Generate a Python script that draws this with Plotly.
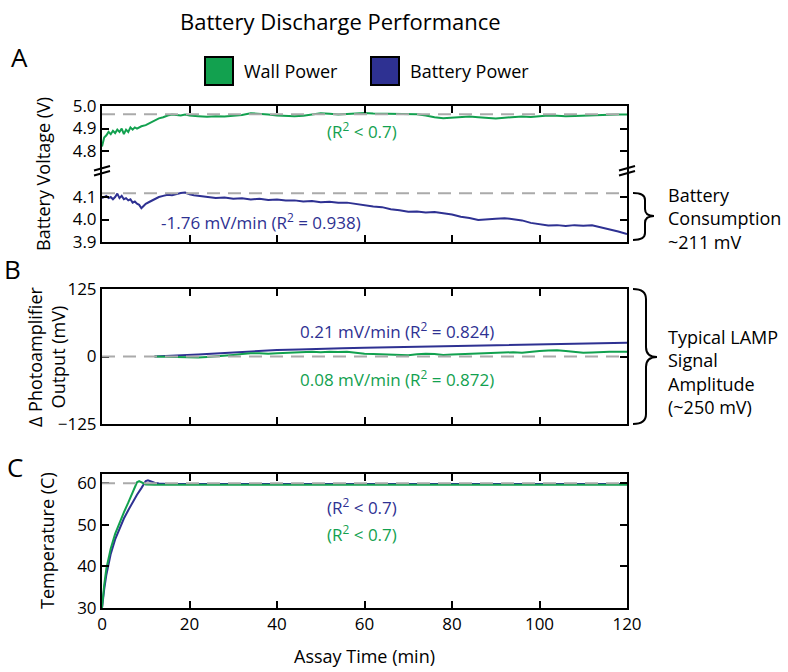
import plotly.graph_objects as go

# ---------------- data ----------------
GREEN = "#12A14F"
BLUE = "#2E3192"
GRAY = "#aaaaaa"
FONT = "Open Sans"

series_names = ["Wall Power", "Battery Power"]

# Panel A: battery voltage (V)
t_wall_v = [0, 0.5, 1, 1.5, 2, 2.5, 3, 3.5, 4, 4.5, 5, 5.5, 6, 6.5, 7, 7.5, 8, 9, 10, 11, 12, 13, 14,
            15, 16, 17, 18, 19, 20, 22, 24, 26, 28, 30, 32, 34, 36, 38, 40, 42, 44, 46, 48, 50, 52, 54,
            56, 58, 60, 62, 64, 66, 68, 70, 72, 74, 76, 78, 80, 82, 84, 86, 88, 90, 92, 94, 96, 98,
            100, 102, 104, 106, 108, 110, 112, 114, 116, 118, 120]
v_wall = [4.82, 4.86, 4.87, 4.885, 4.875, 4.89, 4.88, 4.895, 4.885, 4.90, 4.875, 4.895, 4.885, 4.905,
          4.895, 4.905, 4.90, 4.91, 4.915, 4.925, 4.935, 4.945, 4.95, 4.958, 4.962, 4.96, 4.958, 4.962,
          4.958, 4.955, 4.952, 4.955, 4.953, 4.957, 4.96, 4.968, 4.966, 4.962, 4.958, 4.955, 4.954,
          4.957, 4.962, 4.968, 4.966, 4.962, 4.964, 4.967, 4.969, 4.967, 4.966, 4.963, 4.962, 4.964,
          4.963, 4.958, 4.95, 4.946, 4.948, 4.952, 4.953, 4.95, 4.947, 4.945, 4.948, 4.95, 4.953,
          4.951, 4.955, 4.958, 4.957, 4.954, 4.956, 4.958, 4.96, 4.962, 4.961, 4.962, 4.962]

t_batt_v = [0, 0.5, 1, 1.5, 2, 2.5, 3, 3.5, 4, 4.5, 5, 5.5, 6, 6.5, 7, 7.5, 8, 8.5, 9, 9.5, 10, 11, 12,
            13, 14, 15, 16, 17, 18, 19, 20, 21, 22, 24, 26, 28, 30, 32, 34, 36, 38, 40, 42, 44, 46, 48,
            50, 52, 54, 56, 58, 60, 62, 64, 66, 68, 70, 72, 74, 76, 78, 80, 82, 84, 86, 88, 90, 92, 94,
            96, 98, 100, 102, 104, 106, 108, 110, 112, 114, 116, 118, 120]
v_batt = [4.095, 4.10, 4.105, 4.095, 4.10, 4.09, 4.10, 4.115, 4.095, 4.105, 4.09, 4.095, 4.085, 4.09,
          4.075, 4.08, 4.07, 4.065, 4.05, 4.06, 4.07, 4.08, 4.09, 4.10, 4.105, 4.11, 4.108, 4.114,
          4.118, 4.12, 4.112, 4.108, 4.105, 4.10, 4.096, 4.098, 4.092, 4.094, 4.089, 4.092, 4.087,
          4.089, 4.084, 4.085, 4.08, 4.082, 4.077, 4.079, 4.074, 4.075, 4.069, 4.065, 4.058, 4.055,
          4.046, 4.041, 4.034, 4.036, 4.031, 4.033, 4.027, 4.022, 4.012, 4.007, 3.998, 4.002, 4.003,
          4.006, 4.0, 3.996, 3.985, 3.979, 3.973, 3.975, 3.971, 3.975, 3.972, 3.974, 3.965, 3.959,
          3.947, 3.935]

# Panel B: change in photoamplifier output (mV)
t_batt_p = [12, 14, 16, 18, 20, 22, 24, 26, 28, 30, 32, 34, 36, 38, 40, 45, 50, 55, 60, 65, 70, 75,
            80, 85, 90, 95, 100, 105, 110, 115, 120]
p_batt = [0, 0.5, 1.5, 2.5, 3, 3.5, 4.5, 5.5, 7, 8, 9, 10, 10.5, 11, 12, 13, 14.5, 15.5, 16, 16.7,
          17.3, 18.2, 19.2, 19.8, 20.3, 21, 22, 22.7, 23.5, 24.5, 25.5]

t_wall_p = [12, 14, 16, 18, 20, 22, 24, 26, 28, 30, 32, 34, 36, 38, 40, 42, 44, 46, 48, 50, 52, 54, 56,
            58, 60, 62, 64, 66, 68, 70, 72, 74, 76, 78, 80, 82, 84, 86, 88, 90, 92, 94, 96, 98, 100,
            102, 104, 106, 108, 110, 112, 114, 116, 118, 120]
p_wall = [0, -0.5, -1, -1.5, -1.5, -2, -1, 0, 1.5, 3, 4.5, 6, 6, 5, 6, 7, 8, 8.5, 9, 8, 9, 8.5, 9, 7,
          5, 4.5, 4, 3, 2, 2.5, 4, 5, 4.5, 3, 3.5, 4, 5, 6, 6.5, 7, 7.5, 8, 7, 9, 10, 11, 11.5, 10,
          8.5, 7, 7.5, 8.5, 9, 9, 9]

# Panel C: temperature (C)
t_wall_t = [0, 0.25, 0.5, 1, 1.5, 2, 3, 4, 5, 6, 7, 7.5, 8, 8.5, 9, 9.5, 10, 12, 15, 20, 30, 40, 50,
            60, 70, 80, 90, 100, 110, 120]
temp_wall = [30, 33, 35.5, 39.5, 42, 44.3, 47.8, 50.5, 53, 55.3, 57.8, 59.2, 60.2, 60.5, 60.2, 59.8,
             59.7, 59.6, 59.6, 59.6, 59.6, 59.6, 59.6, 59.6, 59.6, 59.6, 59.6, 59.6, 59.6, 59.6]
t_batt_t = [0, 0.25, 0.5, 1, 1.5, 2, 3, 4, 5, 6, 7, 8, 9, 9.5, 10, 10.5, 11, 12, 13, 15, 20, 30, 40,
            50, 60, 70, 80, 90, 100, 110, 120]
temp_batt = [30, 32.5, 34.5, 38, 40.8, 43, 46.5, 49.2, 51.5, 53.5, 55.5, 57.2, 58.8, 59.8, 60.5, 60.7,
             60.5, 60.1, 59.9, 59.8, 59.8, 59.8, 59.8, 59.8, 59.8, 59.8, 59.8, 59.8, 59.8, 59.8, 59.8]

ref_wall_v = 4.963
ref_batt_v = 4.117
ref_photo = 0
ref_temp = 60

x_ticks_inner = [20, 40, 60, 80, 100]
x_ticks_c = [0, 20, 40, 60, 80, 100, 120]

# ---------------- layout helpers ----------------
W, H = 788, 672
L, R, T, B = 102, 627, 106, 608   # plot area in pixels


def px(x):
    return (x - L) / (R - L)


def py(y):
    return (B - y) / (B - T)


fig = go.Figure()
fig.add_trace(go.Scatter(x=t_wall_v, y=v_wall, xaxis="x4", yaxis="y", mode="lines",
                         line=dict(color=GREEN, width=2), name=series_names[0], showlegend=False))
fig.add_trace(go.Scatter(x=t_batt_v, y=v_batt, xaxis="x", yaxis="y2", mode="lines",
                         line=dict(color=BLUE, width=2), name=series_names[1], showlegend=False))
fig.add_trace(go.Scatter(x=t_batt_p, y=p_batt, xaxis="x2", yaxis="y3", mode="lines",
                         line=dict(color=BLUE, width=2), name=series_names[1], showlegend=False))
fig.add_trace(go.Scatter(x=t_wall_p, y=p_wall, xaxis="x2", yaxis="y3", mode="lines",
                         line=dict(color=GREEN, width=2), name=series_names[0], showlegend=False))
fig.add_trace(go.Scatter(x=t_batt_t, y=temp_batt, xaxis="x3", yaxis="y4", mode="lines",
                         line=dict(color=BLUE, width=2), name=series_names[1], showlegend=False))
fig.add_trace(go.Scatter(x=t_wall_t, y=temp_wall, xaxis="x3", yaxis="y4", mode="lines",
                         line=dict(color=GREEN, width=2), name=series_names[0], showlegend=False))

tickfont = dict(family=FONT, size=17, color="black")
ax_common = dict(showline=True, linewidth=2, linecolor="black", ticks="inside", ticklen=7,
                 tickwidth=2, tickcolor="black", showgrid=False, zeroline=False, tickfont=tickfont)

d_a_top = (py(170), 1.0)
d_a_bot = (py(242), py(170))
d_b = (py(424), py(289))
d_c = (0.0, py(474))

fig.update_layout(
    width=W, height=H,
    margin=dict(l=L, r=W - R, t=T, b=H - B, pad=0),
    paper_bgcolor="white", plot_bgcolor="white", showlegend=False,
    font=dict(family=FONT, size=17, color="black"),
    xaxis=dict(domain=[0, 1], range=[0, 120], anchor="y2", tickvals=x_ticks_inner,
               showticklabels=False, **ax_common),
    xaxis4=dict(domain=[0, 1], range=[0, 120], anchor="y", side="top", tickvals=x_ticks_inner,
                showticklabels=False, **ax_common),
    yaxis=dict(domain=list(d_a_top), range=[4.716, 5.0], anchor="x4", tickvals=[4.8, 4.9, 5.0],
               ticktext=["4.8", "4.9", "5.0"], mirror="ticks", **ax_common),
    yaxis2=dict(domain=list(d_a_bot), range=[3.9, 4.22], anchor="x", tickvals=[3.9, 4.0, 4.1],
                ticktext=["3.9", "4.0", "4.1"], mirror="ticks", **ax_common),
    xaxis2=dict(domain=[0, 1], range=[0, 120], anchor="y3", tickvals=x_ticks_inner,
                showticklabels=False, mirror="ticks", **ax_common),
    yaxis3=dict(domain=list(d_b), range=[-125, 125], anchor="x2", tickvals=[-125, 0, 125],
                mirror="ticks", **ax_common),
    xaxis3=dict(domain=[0, 1], range=[0, 120], anchor="y4", tickvals=x_ticks_c,
                mirror="ticks", **ax_common),
    yaxis4=dict(domain=list(d_c), range=[30, 62.2], anchor="x3", tickvals=[30, 40, 50, 60],
                mirror="ticks", **ax_common),
)

dash = "13px,8px"
shapes = [
    dict(type="line", xref="x4", yref="y", x0=0, x1=120, y0=ref_wall_v, y1=ref_wall_v,
         line=dict(color=GRAY, width=2, dash=dash)),
    dict(type="line", xref="x", yref="y2", x0=0, x1=120, y0=ref_batt_v, y1=ref_batt_v,
         line=dict(color=GRAY, width=2, dash=dash)),
    dict(type="line", xref="x2", yref="y3", x0=0, x1=120, y0=ref_photo, y1=ref_photo,
         line=dict(color=GRAY, width=2, dash=dash)),
    dict(type="line", xref="x3", yref="y4", x0=0, x1=120, y0=ref_temp, y1=ref_temp,
         line=dict(color=GRAY, width=2, dash=dash)),
]

# axis break marks
for xa in (L, R):
    for dy in (-2.5, 2.5):
        shapes.append(dict(type="line", xref="paper", yref="paper",
                           x0=px(xa - 8), x1=px(xa + 8), y0=py(173 + dy), y1=py(168.5 + dy),
                           line=dict(color="black", width=2)))


def brace(x0, xm, xt, ytop, ybot, ytip, r=7):
    pts = [
        ("M", [(x0, ytop)]),
        ("Q", [(xm, ytop), (xm, ytop + r)]),
        ("L", [(xm, ytip - r)]),
        ("Q", [(xm, ytip), (xt, ytip)]),
        ("Q", [(xm, ytip), (xm, ytip + r)]),
        ("L", [(xm, ybot - r)]),
        ("Q", [(xm, ybot), (x0, ybot)]),
    ]
    s = ""
    for cmd, ps in pts:
        s += cmd + " " + " ".join(f"{px(a):.5f},{py(b):.5f}" for a, b in ps) + " "
    return dict(type="path", xref="paper", yref="paper", path=s.strip(),
                line=dict(color="black", width=2))


shapes.append(brace(633, 645, 654, 193, 240, 216))
shapes.append(brace(633, 646, 657, 289, 424, 357, r=10))

# legend boxes
legend_boxes = [(205, 233, GREEN), (371, 399, BLUE)]
for xa, xb, col in legend_boxes:
    shapes.append(dict(type="rect", xref="paper", yref="paper", x0=px(xa), x1=px(xb),
                       y0=py(85), y1=py(57), fillcolor=col, line=dict(color="black", width=2)))

fig.update_layout(shapes=shapes)

ann = []


def txt(text, x, y, xref="paper", yref="paper", size=17, color="black",
        xanchor="center", yanchor="middle", **kw):
    d = dict(text=text, x=x, y=y, xref=xref, yref=yref, showarrow=False,
             xanchor=xanchor, yanchor=yanchor,
             font=dict(family=FONT, size=size, color=color))
    d.update(kw)
    ann.append(d)


txt("Battery Discharge Performance", px(340), py(4), size=22, yanchor="top")
txt("A", px(19), py(57), size=26)
txt("B", px(12), py(269), size=26)
txt("C", px(15), py(467), size=26)
txt(series_names[0], px(242), py(71), size=18, xanchor="left")
txt(series_names[1], px(408), py(71), size=18, xanchor="left")

txt("Battery Voltage (V)", px(43), py(174), size=18, textangle=-90)
txt("∆ Photoamplifier<br>Output (mV)", px(46), py(356), size=18, textangle=-90)
txt("Temperature (C)", px(47), py(541), size=18, textangle=-90)
txt("Assay Time (min)", px(364), py(656), size=18)

txt("(R<sup>2</sup> < 0.7)", 59.4, 4.893, xref="x4", yref="y", color=GREEN)
txt("-1.76 mV/min (R<sup>2</sup> = 0.938)", 36.3, 3.991, xref="x", yref="y2", color=BLUE)
txt("0.21 mV/min (R<sup>2</sup> = 0.824)", 67.5, 48, xref="x2", yref="y3", color=BLUE)
txt("0.08 mV/min (R<sup>2</sup> = 0.872)", 67.5, -41, xref="x2", yref="y3", color=GREEN)
txt("(R<sup>2</sup> < 0.7)", 59.4, 54.5, xref="x3", yref="y4", color=BLUE)
txt("(R<sup>2</sup> < 0.7)", 59.4, 47.8, xref="x3", yref="y4", color=GREEN)

txt("Battery<br>Consumption<br>~211 mV", px(666), py(218), size=18, xanchor="left", align="left")
txt("Typical LAMP<br>Signal<br>Amplitude<br>(~250 mV)", px(666), py(372), size=18,
    xanchor="left", align="left")

fig.update_layout(annotations=ann)
fig.write_html("out.html", config={"displayModeBar": False},
               post_script="document.body.style.margin='0px';document.body.style.overflow='hidden';")
